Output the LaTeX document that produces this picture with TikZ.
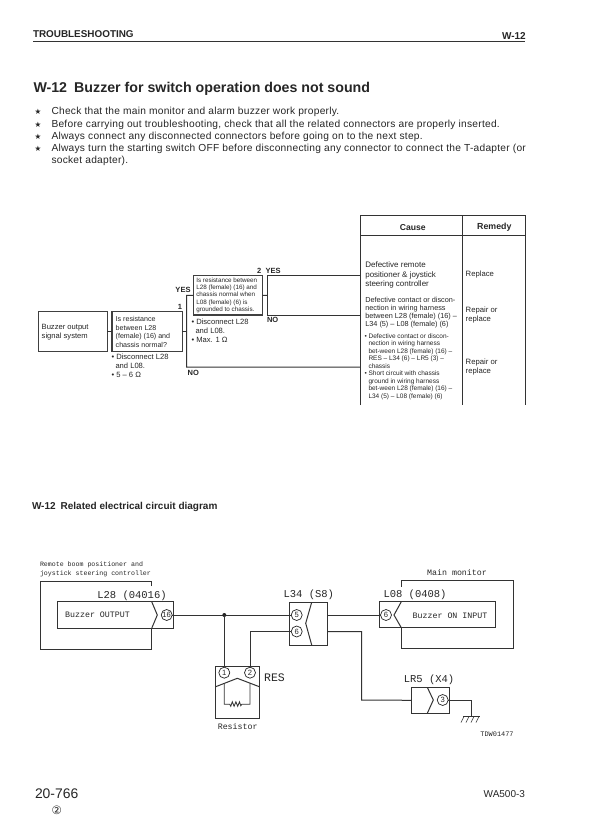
\documentclass[tikz,border=0pt]{standalone}
\usepackage{fontspec}
\setmainfont{Liberation Sans}
\newfontfamily\bodyf[LetterSpace=2.5]{Liberation Sans}
\newfontfamily\cmono{Liberation Mono}
\newfontfamily\djv{DejaVu Sans}
\newcommand{\fs}[2]{\fontsize{#1}{#2}\selectfont}
\tikzset{
  txt/.style={inner sep=0pt,outer sep=0pt,anchor=west,align=left,text=black!85},
  ctr/.style={inner sep=0pt,outer sep=0pt,anchor=center,align=center,text=black!85},
  rtx/.style={inner sep=0pt,outer sep=0pt,anchor=east,align=right,text=black!85},
  bodyt/.style={txt,font=\bodyf\fs{10.2}{12}},
  wire/.style={draw=black!80,line width=1pt},
  fwire/.style={draw=black!80,line width=1pt},
  fbox/.style={draw=black!75,line width=1.1pt,inner sep=0pt,outer sep=0pt,anchor=north west},
  cbox/.style={draw=black!80,line width=1pt,inner sep=0pt,outer sep=0pt,anchor=north west},
  pinc/.style={circle,draw=black!85,line width=0.7pt,fill=white,minimum size=11pt,inner sep=0pt,outer sep=0pt,font=\fs{7.6}{8},text=black!85},
  lab/.style={ctr,font=\cmono\fs{10.5}{12}},
  smalltx/.style={ctr,font=\cmono\fs{8.3}{10}},
  blab/.style={ctr,font=\bfseries\fs{7.5}{9}},
}
\begin{document}
\begin{tikzpicture}[x=1pt,y=-1pt]
\useasboundingbox[fill=white] (0,0) rectangle (596,834);
% header
\node[txt,font=\bfseries\fs{9.9}{10}] (hd) at (33,34.3) {TROUBLESHOOTING};
\node[rtx,font=\bfseries\fs{10}{10}] (hdr) at (525.7,35.7) {W-12};
\coordinate (ruleL) at (33,41.7); \coordinate (ruleR) at (525,41.7);
\draw[black!80,line width=0.9pt] (ruleL) -- (ruleR);
\node[txt,font=\bfseries\fs{14.2}{15}] (title) at (33.5,89) {W-12\hspace{0.5em}Buzzer for switch operation does not sound};
\foreach \n/\yy in {a/112.3,b/124.4,c/136.6,d/148.7}
  \node[ctr,font=\djv\fs{7.5}{9}] (star\n) at (38,\yy) {★};
\node[bodyt] (l1) at (51.5,112.3) {Check that the main monitor and alarm buzzer work properly.};
\node[bodyt] (l2) at (51.5,124.4) {Before carrying out troubleshooting, check that all the related connectors are properly inserted.};
\node[bodyt] (l3) at (51.5,136.6) {Always connect any disconnected connectors before going on to the next step.};
\node[bodyt] (l4) at (51.5,148.7) {Always turn the starting switch OFF before disconnecting any connector to connect the T-adapter (or};
\node[bodyt] (l5) at (51.5,160.8) {socket adapter).};
% flow boxes
\node[fbox,minimum width=69pt,minimum height=40pt] (buzz) at (38.3,311.7) {};
\node[txt,font=\fs{7.6}{9}] (buzzt) at (41.7,331.7) {Buzzer output\\signal system};
\node[fbox,minimum width=70.3pt,minimum height=40pt] (q1) at (112,311.7) {};
\node[txt,font=\fs{7.1}{8.5}] (q1t) at (115.7,332) {Is resistance\\between L28\\(female) (16) and\\chassis normal?};
\node[fbox,line width=1.3pt,minimum width=69pt,minimum height=39.3pt] (q2) at (193.3,275.7) {};
\node[txt,font=\fs{6.3}{7.35}] (q2t) at (196.3,295.3) {Is resistance between\\L28 (female) (16) and\\chassis normal when\\L08 (female) (6) is\\grounded to chassis.};
\node[txt,font=\fs{7.6}{9}] (n1) at (111.5,366) {• Disconnect L28\\\hspace{4pt}and L08.\\• 5 – 6 Ω};
\node[txt,font=\fs{7.6}{9}] (n2) at (191.5,330.3) {• Disconnect L28\\\hspace{4pt}and L08.\\• Max. 1 Ω};
\node[blab] (no1) at (180,307.3) {1};
\node[blab] (no2) at (259.3,270.7) {2};
\node[blab] (y2) at (273.2,271) {YES};
\node[blab] (y1) at (183,290) {YES};
\node[blab] (n2l) at (272.7,320.3) {NO};
\node[blab] (n1l) at (193.3,373) {NO};
% flow connectors
\coordinate (v1t) at (186.7,295.3); \coordinate (v1m) at (186.7,331.7); \coordinate (v1b) at (186.7,367);
\coordinate (v2t) at (267,275.5); \coordinate (v2m) at (267,295.3); \coordinate (v2b) at (267,315);
\coordinate (tA) at (360.3,275.5); \coordinate (tB) at (360.3,315); \coordinate (tC) at (360.3,367);
\draw[fwire] (buzz.east) -- (q1.west);
\draw[fwire] (q1.east) -- (v1m);
\draw[fwire] (q2.west) -- (v1t) -- (v1b) -- (tC);
\draw[fwire] (q2.east) -- (v2m);
\draw[fwire] (tA) -- (v2t) -- (v2b) -- (tB);
% table
\coordinate (t1) at (360.3,405); \coordinate (t2) at (360.3,215.7); \coordinate (t3) at (525,215.7); \coordinate (t4) at (525,405);
\coordinate (t5) at (462,215.7); \coordinate (t6) at (462,405); \coordinate (t7) at (360.3,235.7); \coordinate (t8) at (525,235.7);
\draw[fwire] (t1) -- (t2) -- (t3) -- (t4);
\draw[fwire] (t5) -- (t6);
\draw[fwire] (t7) -- (t8);
\node[ctr,font=\bfseries\fs{8.6}{10}] (cause) at (412.7,227.5) {Cause};
\node[ctr,font=\bfseries\fs{8.8}{10}] (rem) at (494.3,227.5) {Remedy};
\node[txt,font=\fs{8}{9.15}] (c1) at (365.3,275) {Defective remote\\positioner \& joystick\\steering controller};
\node[txt,font=\fs{7.3}{8}] (c2) at (365.3,313) {Defective contact or discon-\\nection in wiring harness\\between L28 (female) (16) –\\L34 (5) – L08 (female) (6)};
\node[txt,font=\fs{6.5}{7.47}] (c3) at (364.5,366.5) {• Defective contact or discon-\\\hspace{4pt}nection in wiring harness\\\hspace{4pt}bet-ween L28 (female) (16) –\\\hspace{4pt}RES – L34 (6) – LR5 (3) –\\\hspace{4pt}chassis\\• Short circuit with chassis\\\hspace{4pt}ground in wiring harness\\\hspace{4pt}bet-ween L28 (female) (16) –\\\hspace{4pt}L34 (5) – L08 (female) (6)};
\node[txt,font=\fs{7.7}{9}] (r1) at (465.7,275) {Replace};
\node[txt,font=\fs{7.7}{9}] (r2) at (465.7,315) {Repair or\\replace};
\node[txt,font=\fs{7.7}{9}] (r3) at (465.7,366.7) {Repair or\\replace};
% section head
\node[txt,font=\bfseries\fs{10}{10}] (sec) at (32,506.7) {W-12\hspace{0.5em}Related electrical circuit diagram};
% circuit texts
\node[txt,font=\cmono\fs{6.6}{9}] (ctl) at (40,569.5) {Remote boom positioner and\\joystick steering controller};
\node[lab] (l28) at (132,596) {L28 (04016)};
\node[lab] (l34) at (308.8,594.3) {L34 (S8)};
\node[lab] (l08) at (415,594.3) {L08 (0408)};
\node[lab] (lr5) at (429,680) {LR5 (X4)};
\node[ctr,font=\cmono\fs{11.5}{12}] (res) at (274.5,678) {RES};
\node[smalltx] (rst) at (237.7,727) {Resistor};
\node[smalltx] (mm) at (457,573) {Main monitor};
\node[smalltx] (bo) at (97.5,615) {Buzzer OUTPUT};
\node[smalltx] (bi) at (450,615.7) {Buzzer ON INPUT};
\node[ctr,font=\cmono\fs{6.9}{8}] (tdw) at (497,734) {TDW01477};
% circuit boxes
\node[cbox,minimum width=116pt,minimum height=26.6pt] (bl28) at (57.3,601.7) {};
\node[cbox,minimum width=38pt,minimum height=42.7pt] (bl34) at (289.3,602.3) {};
\node[cbox,minimum width=116.4pt,minimum height=26pt] (bl08) at (379.3,601.7) {};
\node[cbox,minimum width=38pt,minimum height=26pt] (blr5) at (411.7,687.3) {};
\node[cbox,minimum width=43.6pt,minimum height=51.6pt] (bres) at (215.7,666.7) {};
% outer housings
\coordinate (oa) at (151.7,586); \coordinate (ob) at (151.7,581.7); \coordinate (oc) at (40,581.7);
\coordinate (od) at (40,649); \coordinate (oe) at (151.7,649); \coordinate (of) at (151.7,628.3);
\draw[wire] (oa) -- (ob) -- (oc) -- (od) -- (oe) -- (of);
\coordinate (ma) at (401.3,586.7); \coordinate (mb) at (401.3,580); \coordinate (mc) at (513.3,580);
\coordinate (me2) at (513.3,648.3); \coordinate (me) at (401.3,648.3); \coordinate (mf) at (401.3,627.7);
\draw[wire] (ma) -- (mb) -- (mc) -- (me2) -- (me) -- (mf);
% connector notches
\coordinate (z1) at (151.7,601.7); \coordinate (z2) at (157.3,615);
\draw[wire] (z1) -- (z2) -- (of);
\coordinate (z3) at (311.7,602.3); \coordinate (z4) at (305.7,623.3); \coordinate (z5) at (311.7,645);
\draw[wire] (z3) -- (z4) -- (z5);
\coordinate (z6) at (401.3,601.7); \coordinate (z7) at (394,615);
\draw[wire] (z6) -- (z7) -- (mf);
\coordinate (z8) at (427.3,687.3); \coordinate (z9) at (433.3,700); \coordinate (z10) at (427.3,713.3);
\draw[wire] (z8) -- (z9) -- (z10);
\coordinate (z11) at (215.7,686.7); \coordinate (z12) at (237.3,678.3); \coordinate (z13) at (259.3,686.7);
\draw[wire] (z11) -- (z12) -- (z13);
% pins
\node[pinc] (p16) at (166.7,615) {16};
\node[pinc] (p5) at (296.7,615) {5};
\node[pinc] (p6) at (296.7,631.5) {6};
\node[pinc] (p6b) at (386,615) {6};
\node[pinc] (p3) at (442.7,700) {3};
\node[pinc] (p1) at (224.3,672.7) {1};
\node[pinc] (p2) at (250,672.7) {2};
% wires
\coordinate (j) at (224.3,615);
\draw[wire] (p16.east) -- (p5.west);
\fill[black!85] (j) circle (2pt);
\draw[wire] (j) -- (p1.north);
\coordinate (w2) at (250,631.5);
\draw[wire] (p2.north) -- (w2) -- (p6.west);
\draw[wire] (bl34.east |- p5) -- (p6b.west);
\coordinate (w3) at (327.3,631.5); \coordinate (w4) at (361.7,631.5); \coordinate (w5) at (361.7,700);
\draw[wire] (w3) -- (w4) -- (w5) -- (blr5.west);
\coordinate (g1) at (471.7,700); \coordinate (g2) at (471.7,716.5);
\draw[wire] (p3.east) -- (g1) -- (g2);
\coordinate (g3) at (463,716.5); \coordinate (g4) at (480,716.5);
\draw[wire] (g3) -- (g4);
\foreach \gx in {464,469,474,479} \draw[black!80,line width=0.6pt] (\gx,716.5) -- ++(-3,6);
% resistor
\coordinate (r1t) at (224.3,683.4); \coordinate (r2t) at (250,683.1);
\coordinate (r1a) at (224.3,704.3); \coordinate (r2a) at (250,704.3);
\draw[wire,line width=0.8pt] (r1t) -- (r1a) -- ++(5.5,0) -- ++(1,2) -- ++(1.5,-4.5) -- ++(1.8,4.5) -- ++(1.8,-4.5) -- ++(1.8,4.5) -- ++(1.8,-4.5) -- ++(1.3,4) -- ++(1,-1.5) -- (r2a) -- (r2t);
% footer
\node[txt,font=\fs{13.9}{15}] (pg) at (35,794.2) {20-766};
\node[ctr,font=\djv\fs{11.5}{12}] (rev) at (56.7,810) {②};
\node[rtx,font=\fs{10}{10}] (wa) at (525,794) {WA500-3};
\end{tikzpicture}
\end{document}
